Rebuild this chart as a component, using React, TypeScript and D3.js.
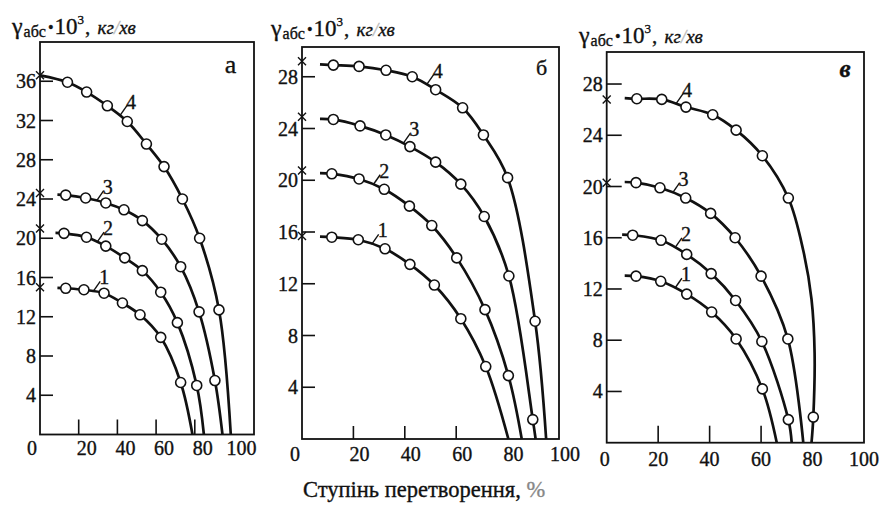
import React from 'react';
import * as d3 from 'd3';

// ---------- data ----------
// panel а
const a1 = [[13.3, 14.9], [22.7, 14.75], [33.1, 14.4], [42.6, 13.4], [51.7, 12.2], [62.4, 9.9], [72.7, 5.3]];
const a2 = [[12.4, 20.5], [24.0, 20.1], [34.0, 19.2], [43.8, 18.0], [52.9, 16.7], [62.4, 14.5], [71.0, 11.4], [81.0, 5.0]];
const a3 = [[13.3, 24.4], [23.6, 24.1], [34.0, 23.6], [43.4, 22.9], [52.9, 21.8], [62.9, 19.9], [72.7, 17.1], [82.2, 12.5], [90.4, 5.5]];
const a4 = [[14.2, 35.9], [24.1, 34.9], [34.8, 33.5], [45.1, 31.9], [55.0, 29.6], [64.1, 27.3], [73.6, 24.0], [82.5, 20.0], [92.5, 12.7]];
const aCross = [15.0, 21.0, 24.6, 36.6];
const aEnd = [78.8, 84.7, 94.3, 98.6];
const aStart = [9, 8, 9, 0];
const aLabelAt = [27.5, 29.5, 29.3, 41.3];

// panel б
const b1 = [[11.6, 15.6], [21.9, 15.4], [32.3, 14.7], [42.0, 13.5], [51.5, 11.9], [61.8, 9.3], [71.5, 5.6]];
const b2 = [[11.6, 20.5], [22.2, 20.1], [32.0, 19.3], [41.8, 18.0], [50.5, 16.5], [60.2, 14.0], [71.2, 10.0], [80.3, 4.9]];
const b3 = [[12.2, 24.7], [22.6, 24.2], [32.6, 23.5], [42.0, 22.6], [52.0, 21.4], [61.8, 19.7], [70.9, 17.2], [80.5, 12.6], [89.8, 1.5]];
const b4 = [[12.2, 28.9], [22.2, 28.8], [32.7, 28.5], [42.9, 28.0], [52.0, 27.0], [62.5, 25.6], [70.6, 23.5], [80.0, 20.2], [90.7, 9.1]];
const bCross = [15.7, 20.75, 24.9, 29.2];
const bEnd = [80.3, 85.5, 90.9, 95.0];
const bStart = [7, 7, 7, 7];
const bLabelAt = [27.1, 27.7, 39.4, 48.5];

// panel в
const v1 = [[11.4, 13.0], [21.0, 12.6], [31.1, 11.6], [40.8, 10.2], [50.3, 8.1], [60.5, 4.2]];
const v2 = [[10.1, 16.2], [21.1, 15.8], [31.1, 14.7], [40.6, 13.2], [50.1, 11.1], [60.3, 7.9], [70.6, 1.8]];
const v3 = [[11.4, 20.3], [20.7, 19.9], [30.7, 19.1], [40.4, 17.9], [49.9, 16.0], [60.0, 13.0], [70.4, 8.1]];
const v4 = [[11.7, 26.85], [21.4, 26.8], [30.8, 26.2], [41.2, 25.6], [50.3, 24.4], [60.5, 22.4], [70.6, 19.1], [80.3, 2.0]];
const v4Bend = [[76.4, 15.0], [79.6, 11.2], [80.8, 7.0]];
const vCross = [null, null, 20.3, 26.8];
const vEnd = [66.1, 71.9, 76.4, 79.6];
const vStart = [7, 6, 7, 7];
const vLabelAt = [26.5, 26.5, 25.6, 26.9];

const curveNames = ['1', '2', '3', '4'];
const xTickLabels = [0, 20, 40, 60, 80, 100];
const yTicksA = [4, 8, 12, 16, 20, 24, 28, 32, 36];
const yTicksBV = [4, 8, 12, 16, 20, 24, 28];
const xTicksA = [20, 40, 60, 80];
const xTicksBV = [20, 40, 60];
const panelNames = ['а', 'б', 'в'];
const xAxisTitle = 'Ступінь перетворення, ';

const FONT = 'Liberation Serif, serif';
const INK = '#111';

const panels = [
  {
    frame: [40, 42, 254, 434.5], xMax: 110.6, yMax: 40, yTicks: yTicksA, xTicks: xTicksA,
    curves: [a1, a2, a3, a4], bends: [[], [], [], []], cross: aCross, ends: aEnd, starts: aStart, labelAt: aLabelAt,
    tickY: 13, tickX: 15, labDx: 8, lab0Dx: -8, labY: 455, title: [12, 34],
    name: panelNames[0], nameX: 230.5, nameY: 72.7, nameSize: 26, nameItalic: false,
  },
  {
    frame: [302, 47, 559, 439], xMax: 100, yMax: 30.3, yTicks: yTicksBV, xTicks: xTicksBV,
    curves: [b1, b2, b3, b4], bends: [[], [], [], []], cross: bCross, ends: bEnd, starts: bStart, labelAt: bLabelAt,
    tickY: 13, tickX: 13, labDx: 6, lab0Dx: -7, labY: 461, title: [271, 36],
    name: panelNames[1], nameX: 541.5, nameY: 75, nameSize: 22, nameItalic: false,
  },
  {
    frame: [606.7, 52, 864, 442.7], xMax: 100, yMax: 30.5, yTicks: yTicksBV, xTicks: xTicksBV,
    curves: [v1, v2, v3, v4], bends: [[], [], [], v4Bend], cross: vCross, ends: vEnd, starts: vStart, labelAt: vLabelAt,
    tickY: 15, tickX: 17, labDx: 0, lab0Dx: -2, labY: 466, title: [579, 43],
    name: panelNames[2], nameX: 845, nameY: 76.5, nameSize: 25, nameItalic: true,
  },
];

function interpY(pts: number[][], x: number) {
  for (let i = 0; i < pts.length - 1; i++) {
    const [x0, y0] = pts[i];
    const [x1, y1] = pts[i + 1];
    if (x >= x0 && x <= x1) return y0 + ((x - x0) / (x1 - x0)) * (y1 - y0);
  }
  return pts[0][1];
}

const heavy = { stroke: INK, strokeWidth: 0.35 };

function Title({ x, y }: { x: number; y: number }) {
  return (
    <text x={x} y={y} fontFamily={FONT} fill={INK} {...heavy}>
      <tspan fontSize={24}>γ</tspan>
      <tspan fontSize={16} dy={3} dx={1}>абс</tspan>
      <tspan fontSize={16} dy={-4} dx={2}>•</tspan>
      <tspan fontSize={23} dy={1} dx={1}>10</tspan>
      <tspan fontSize={13} dy={-10}>3</tspan>
      <tspan fontSize={21} dy={10} dx={1}>, </tspan>
      <tspan fontSize={19} fontStyle="italic" dx={2}>кг</tspan>
      <tspan fontSize={19} fontStyle="italic" fill="#bbb" stroke="#bbb">/</tspan>
      <tspan fontSize={19} fontStyle="italic">хв</tspan>
    </text>
  );
}

function Panel({ p }: { p: any }) {
  const [l, t, r, b] = p.frame;
  const x = d3.scaleLinear().domain([0, p.xMax]).range([l, r]);
  const y = d3.scaleLinear().domain([0, p.yMax]).range([b, t]);
  const line = d3
    .line<number[]>()
    .x((d) => x(d[0]))
    .y((d) => y(d[1]))
    .curve(d3.curveCatmullRom.alpha(0.5));

  return (
    <g>
      <Title x={p.title[0]} y={p.title[1]} />
      <rect x={l} y={t} width={r - l} height={b - t} fill="none" stroke={INK} strokeWidth={1.8} />
      {p.yTicks.map((v: number) => (
        <g key={'y' + v}>
          <line x1={l} x2={l + p.tickY} y1={y(v)} y2={y(v)} stroke={INK} strokeWidth={1.6} />
          <text x={l - 4} y={y(v)} dy="0.35em" textAnchor="end" fontFamily={FONT} fontSize={20} fill={INK} {...heavy}>
            {v}
          </text>
        </g>
      ))}
      {p.xTicks.map((v: number) => (
        <line key={'x' + v} x1={x(v)} x2={x(v)} y1={b} y2={b - p.tickX} stroke={INK} strokeWidth={1.6} />
      ))}
      {xTickLabels.map((v) => (
        <text key={'xl' + v} x={x(v) + (v === 0 ? p.lab0Dx : p.labDx)} y={p.labY} textAnchor="middle" fontFamily={FONT} fontSize={20} fill={INK} {...heavy}>
          {v}
        </text>
      ))}
      {p.curves.map((pts: number[][], i: number) => {
        const start = p.starts[i];
        const startY = start === 0 ? p.cross[i] : pts[0][1] + 0.05;
        const mid = [...pts, ...p.bends[i]].sort((m: number[], n: number[]) => n[1] - m[1]);
        const all = [[start, startY], ...mid, [p.ends[i], 0]];
        const lx = p.labelAt[i];
        const ly = interpY(pts, lx);
        const px = x(lx);
        const py = y(ly);
        const cx0 = x(0);
        const cy0 = p.cross[i] != null ? y(p.cross[i]) : 0;
        return (
          <g key={'c' + i}>
            <path d={line(all) || ''} fill="none" stroke={INK} strokeWidth={2.7} />
            {pts.map((d, j) => (
              <circle key={j} cx={x(d[0])} cy={y(d[1])} r={5} fill="#fff" stroke={INK} strokeWidth={1.6} />
            ))}
            {p.cross[i] != null && (
              <path
                d={`M${cx0 - 4},${cy0 - 4}L${cx0 + 4},${cy0 + 4}M${cx0 - 4},${cy0 + 4}L${cx0 + 4},${cy0 - 4}`}
                stroke={INK}
                strokeWidth={1.4}
              />
            )}
            <line x1={px} y1={py} x2={px + 7} y2={py - 10} stroke={INK} strokeWidth={1.4} />
            <text x={px + 6} y={py - 7} fontFamily={FONT} fontSize={20} fill={INK} {...heavy}>
              {curveNames[i]}
            </text>
          </g>
        );
      })}
      <text
        x={p.nameX}
        y={p.nameY}
        textAnchor="middle"
        fontFamily={FONT}
        fontSize={p.nameSize}
        fontStyle={p.nameItalic ? 'italic' : 'normal'}
        fontWeight={p.nameItalic ? 'bold' : 'normal'}
        fill={INK}
        {...heavy}
      >
        {p.name}
      </text>
    </g>
  );
}

export default function App() {
  return (
    <svg width={886} height={506} style={{ position: 'absolute', left: 0, top: 0, background: '#fff' }}>
      <rect x={0} y={0} width={886} height={506} fill="#fff" />
      {panels.map((p, i) => (
        <Panel key={i} p={p} />
      ))}
      <text x={303} y={497} fontFamily={FONT} fontSize={22.5} fill={INK} {...heavy}>
        {xAxisTitle}
        <tspan fill="#888" stroke="#888">%</tspan>
      </text>
    </svg>
  );
}
